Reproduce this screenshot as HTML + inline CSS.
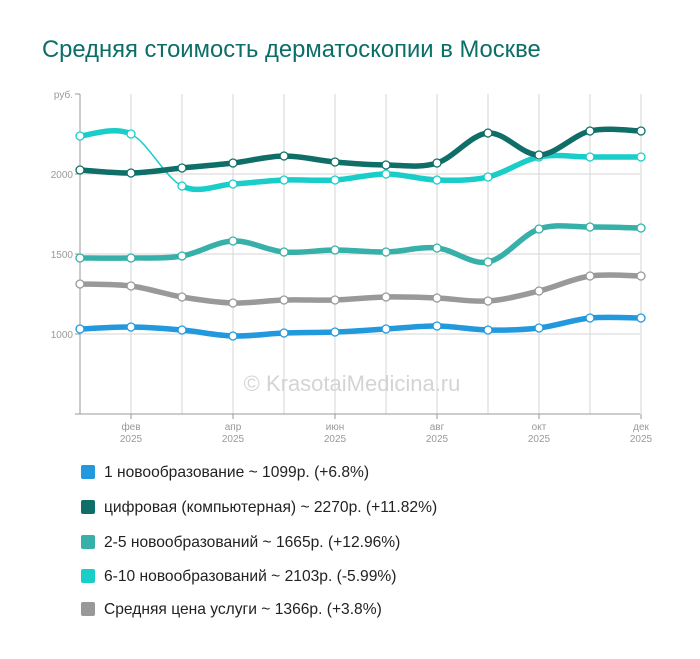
<!DOCTYPE html>
<html><head><meta charset="utf-8"><style>
body{margin:0;background:#fff;font-family:"Liberation Sans",sans-serif}
.t{position:absolute;left:42px;top:36px;font-size:23.8px;color:#0c6e68}
.lg{position:absolute;left:81px;font-size:15.6px;color:#222}
.lg i{display:inline-block;width:14px;height:14px;border-radius:2px;vertical-align:-2px;margin-right:9px}
</style></head><body>
<div class="t">Средняя стоимость дерматоскопии в Москве</div>
<svg id="s" width="700" height="659" style="position:absolute;left:0;top:0" font-family="Liberation Sans, sans-serif"></svg>
<div class="lg" style="top:464px"><i style="background:#2299dd"></i>1 новообразование ~ 1099р. (+6.8%)</div>
<div class="lg" style="top:499px"><i style="background:#0f6e68"></i>цифровая (компьютерная) ~ 2270р. (+11.82%)</div>
<div class="lg" style="top:534px"><i style="background:#36b0a8"></i>2-5 новообразований ~ 1665р. (+12.96%)</div>
<div class="lg" style="top:568px"><i style="background:#19cdc9"></i>6-10 новообразований ~ 2103р. (-5.99%)</div>
<div class="lg" style="top:601px"><i style="background:#999"></i>Средняя цена услуги ~ 1366р. (+3.8%)</div>
<script>
var s='',X=[];for(var i=0;i<12;i++)X.push(80+i*51);
for(var i=1;i<12;i++)s+='<line x1="'+X[i]+'" y1="94" x2="'+X[i]+'" y2="414" stroke="#d6d6d6"/>';
[174,254,334].forEach(function(y){s+='<line x1="80" y1="'+y+'" x2="640" y2="'+y+'" stroke="#d6d6d6"/>'});
s+='<line x1="80" y1="94" x2="80" y2="414" stroke="#999"/><line x1="75" y1="414" x2="640" y2="414" stroke="#999"/>';
[94,174,254,334].forEach(function(y){s+='<line x1="75" y1="'+y+'" x2="80" y2="'+y+'" stroke="#999"/>'});
var lab=[['руб.',98],['2000',178],['1500',258],['1000',338]];
lab.forEach(function(l){s+='<text x="73" y="'+l[1]+'" font-size="10" fill="#999" text-anchor="end">'+l[0]+'</text>'});
var m={1:'фев',3:'апр',5:'июн',7:'авг',9:'окт',11:'дек'};
for(var k in m){var x=X[k];s+='<line x1="'+x+'" y1="414" x2="'+x+'" y2="419" stroke="#999"/><text x="'+x+'" y="430" font-size="10" fill="#999" text-anchor="middle">'+m[k]+'</text><text x="'+x+'" y="442" font-size="10" fill="#999" text-anchor="middle">2025</text>'}
s+='<text x="352" y="391" font-size="22" fill="#d4d4d4" text-anchor="middle">© KrasotaiMedicina.ru</text>';
function path(Y,a,b){var d='M'+X[a]+','+Y[a];for(var i=a;i<b;i++){var p0=i>0?i-1:i,p3=i+2<12?i+2:i+1;
d+=' C'+(X[i]+(X[i+1]-X[p0])/6)+','+(Y[i]+(Y[i+1]-Y[p0])/6)+' '+(X[i+1]-(X[p3]-X[i])/6)+','+(Y[i+1]-(Y[p3]-Y[i])/6)+' '+X[i+1]+','+Y[i+1]}return d}
var S=[
['#999',[284,286,297,303,300,300,297,298,301,291,276,276]],
['#36b0a8',[258,258,256,241,252,250,252,248,262,229,227,228]],
['#2299dd',[329,327,330,336,333,332,329,326,330,328,318,318]],
['#19cdc9',[136,134,186,184,180,180,174,180,177,157,157,157],1],
['#0f6e68',[170,173,168,163,156,162,165,163,133,155,131,131]]];
S.forEach(function(z){var c=z[0],Y=z[1];
if(z[2]){s+='<path d="'+path(Y,0,1)+'" stroke="'+c+'" stroke-width="5.5" fill="none"/><path d="'+path(Y,1,2)+'" stroke="'+c+'" stroke-width="1.5" fill="none"/><path d="'+path(Y,2,11)+'" stroke="'+c+'" stroke-width="5.5" fill="none"/>'}
else s+='<path d="'+path(Y,0,11)+'" stroke="'+c+'" stroke-width="5.5" fill="none"/>';
for(var i=0;i<12;i++)s+='<circle cx="'+X[i]+'" cy="'+Y[i]+'" r="4" fill="#fff" stroke="'+c+'" stroke-width="1.3"/>';});
document.getElementById('s').innerHTML=s;
</script>
</body></html>
